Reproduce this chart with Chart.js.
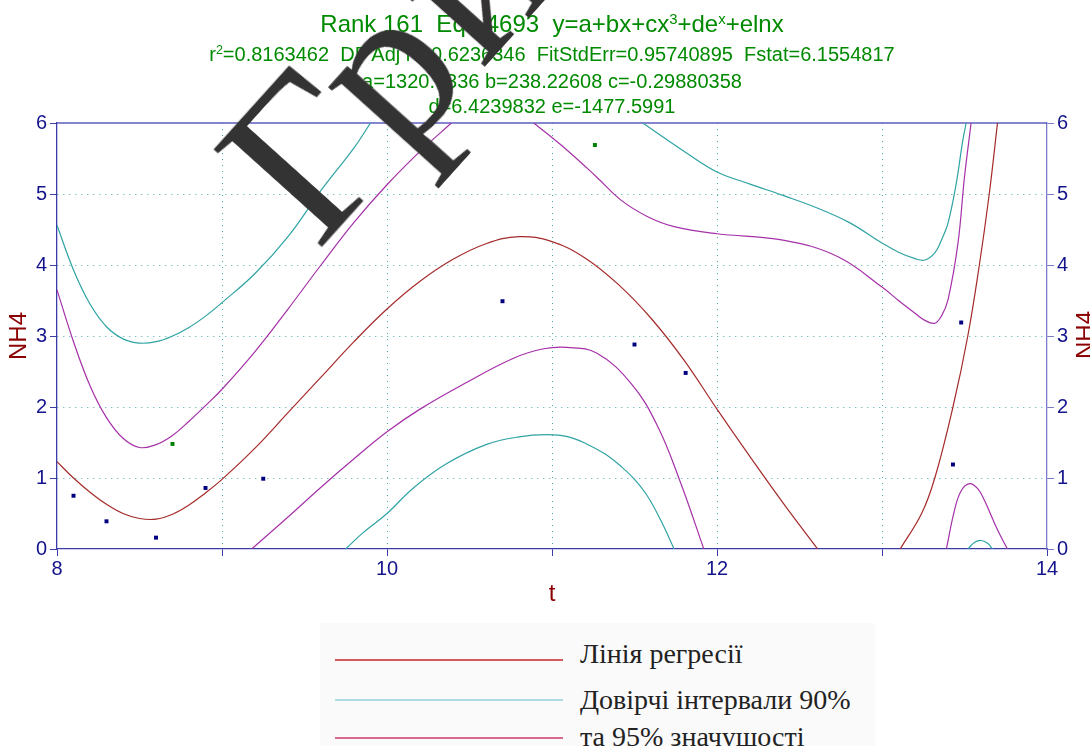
<!DOCTYPE html>
<html>
<head>
<meta charset="utf-8">
<script src="https://cdn.jsdelivr.net/npm/chart.js@4.4.1/dist/chart.umd.min.js"></script>
<style>
  body { margin:0; width:1090px; height:746px; overflow:hidden; background:#fff; position:relative; }
  #wrap { position:absolute; left:0; top:0; width:1090px; height:620px; }
  .ttl { position:absolute; left:0; width:1104px; text-align:center; color:#008a00;
         font-family:"Liberation Sans", Arial, sans-serif; line-height:1; white-space:nowrap; }
  .ttl sup { font-size:0.62em; line-height:0; vertical-align:0.55em; }
  #nh4r { position:absolute; left:1055px; top:321px; width:60px; height:28px; line-height:28px;
          text-align:center; font:24px "Liberation Sans", Arial, sans-serif; color:#8b0000;
          transform:rotate(-90deg); }
  #legend { position:absolute; left:320px; top:623px; width:555px; height:123px; background:#fafafa; }
  .lg-line { position:absolute; left:15px; width:228px; height:2px; }
  .lg-txt { position:absolute; left:260px; font:28px "Liberation Serif", "Times New Roman", serif;
            color:#222; line-height:1; white-space:nowrap; }
  #stamp { position:absolute; left:318px; top:252px; width:0; height:0; transform:rotate(-48deg);
           transform-origin:0 0; }
  #stamp span { position:absolute; left:0; top:-186px; font:222px "Liberation Serif", "Times New Roman", serif;
                color:#333; line-height:1; white-space:nowrap; letter-spacing:10px; }
</style>
</head>
<body>
<div id="wrap"><canvas id="chart" width="1090" height="620"></canvas></div>

<div class="ttl" style="top:12px;font-size:24px;">Rank 161&nbsp; Eqn 4693&nbsp; y=a+bx+cx<sup>3</sup>+de<sup>x</sup>+elnx</div>
<div class="ttl" style="top:44px;font-size:20px;">r<sup>2</sup>=0.8163462&nbsp; DF Adj r<sup>2</sup>=0.6236346&nbsp; FitStdErr=0.95740895&nbsp; Fstat=6.1554817</div>
<div class="ttl" style="top:71px;font-size:20px;">a=1320.7336 b=238.22608 c=-0.29880358</div>
<div class="ttl" style="top:96px;font-size:20px;">d=6.4239832 e=-1477.5991</div>

<div id="nh4r">NH4</div>

<div id="legend">
  <div class="lg-line" style="top:36px;background:#d35a5e;"></div>
  <div class="lg-txt" style="top:17px;">Лінія регресії</div>
  <div class="lg-line" style="top:76px;background:#abdbe3;"></div>
  <div class="lg-txt" style="top:63px;">Довірчі інтервали 90%</div>
  <div class="lg-line" style="top:114px;background:#d8698c;"></div>
  <div class="lg-txt" style="top:100px;">та 95% значущості</div>
</div>

<div id="stamp"><span>Гриф</span></div>

<script>
// measured points (t, NH4)
const obsX = [8.10, 8.30, 8.60, 8.90, 9.25, 10.70, 11.50, 11.81, 13.43, 13.48];
const obsY = [0.75, 0.39, 0.16, 0.86, 0.99, 3.49, 2.88, 2.48, 1.19, 3.19];
const outX = [8.70, 11.26];
const outY = [1.48, 5.69];

// regression line
const regX = [8.0, 8.1, 8.2, 8.3, 8.4, 8.5, 8.6, 8.7, 8.8, 8.9, 9.0, 9.2, 9.4, 9.6, 9.8, 10.0, 10.2, 10.4, 10.6, 10.8, 11.0, 11.2, 11.4, 11.6, 11.8, 12.0, 12.2, 12.4, 12.61,
              null, 13.11, 13.24, 13.32, 13.43, 13.52, 13.59, 13.65, 13.70];
const regY = [1.23, 1.0, 0.8, 0.63, 0.5, 0.43, 0.42, 0.49, 0.62, 0.79, 0.98, 1.42, 1.92, 2.42, 2.92, 3.38, 3.77, 4.08, 4.3, 4.4, 4.33, 4.1, 3.73, 3.25, 2.66, 1.97, 1.3, 0.65, 0,
              null, 0, 0.5, 1.0, 2.0, 3.0, 4.0, 5.0, 6.0];

// 90% band (teal)
const hi90X = [8.0, 8.1, 8.2, 8.3, 8.4, 8.5, 8.6, 8.7, 8.8, 8.9, 9.0, 9.2, 9.4, 9.6, 9.8, 9.9,
               null, 11.55, 11.82, 12.0, 12.2, 12.4, 12.6, 12.8, 13.0, 13.1, 13.2, 13.26, 13.32, 13.36, 13.40, 13.45, 13.49, 13.51];
const hi90Y = [4.56, 3.93, 3.45, 3.13, 2.96, 2.9, 2.92, 3.0, 3.12, 3.28, 3.47, 3.88, 4.4, 5.05, 5.65, 6.0,
               null, 6.0, 5.57, 5.31, 5.14, 4.98, 4.81, 4.6, 4.31, 4.18, 4.09, 4.07, 4.17, 4.35, 4.59, 5.15, 5.76, 6.0];
const lo90X = [9.75, 9.85, 10.0, 10.16, 10.36, 10.6, 10.8, 10.97, 11.1, 11.21, 11.32, 11.42, 11.5, 11.58, 11.66, 11.74,
               null, 13.52, 13.56, 13.60, 13.64, 13.67];
const lo90Y = [0, 0.22, 0.5, 0.86, 1.2, 1.47, 1.58, 1.61, 1.58, 1.48, 1.34, 1.16, 0.98, 0.74, 0.4, 0,
               null, 0, 0.09, 0.12, 0.08, 0];

// 95% band (magenta)
const hi95X = [8.0, 8.1, 8.2, 8.3, 8.4, 8.5, 8.6, 8.7, 8.8, 8.9, 9.0, 9.2, 9.4, 9.6, 9.8, 10.0, 10.2, 10.39,
               null, 10.89, 11.09, 11.27, 11.42, 11.58, 11.74, 12.0, 12.4, 12.73, 13.0, 13.1, 13.2, 13.26, 13.32, 13.36, 13.40, 13.46, 13.50, 13.54];
const hi95Y = [3.65, 2.92, 2.3, 1.85, 1.56, 1.43, 1.47, 1.6, 1.8, 2.02, 2.25, 2.78, 3.38, 4.0, 4.6, 5.13, 5.6, 6.0,
               null, 6.0, 5.62, 5.24, 4.91, 4.68, 4.54, 4.44, 4.35, 4.12, 3.69, 3.5, 3.32, 3.22, 3.18, 3.28, 3.51, 4.30, 5.24, 6.0];
const lo95X = [9.18, 9.4, 9.6, 9.8, 10.0, 10.2, 10.47, 10.77, 10.95, 11.09, 11.27, 11.48, 11.64, 11.78, 11.92,
               null, 13.39, 13.44, 13.48, 13.53, 13.58, 13.62, 13.70, 13.76];
const lo95Y = [0, 0.45, 0.87, 1.27, 1.65, 1.97, 2.33, 2.69, 2.82, 2.84, 2.76, 2.33, 1.73, 0.93, 0,
               null, 0, 0.55, 0.82, 0.92, 0.85, 0.69, 0.27, 0];

const xTicks = [8, 10, 12, 14];

const pts = (xs, ys) => xs.map((x, i) => ({ x: x, y: ys[i] }));

const NAVY = '#14148c';
const AXIS = '#3c3ca8';
const GRID = '#45a8a8';
const DARKRED = '#8b0000';

function curve(xs, ys, color) {
    return {
        data: pts(xs, ys), showLine: true, borderColor: color, borderWidth: 1.2,
        pointRadius: 0, tension: 0.4, spanGaps: false
    };
}

// top frame line (no axis there)
const topFrame = {
    id: 'topFrame',
    beforeDatasetsDraw(chart) {
        const { ctx, chartArea: a } = chart;
        ctx.save();
        ctx.strokeStyle = '#5c5cc0';
        ctx.lineWidth = 1.3;
        ctx.beginPath();
        ctx.moveTo(a.left, a.top);
        ctx.lineTo(a.right, a.top);
        ctx.stroke();
        ctx.restore();
    }
};

const edgeGrid = (lo, hi) => c => (c.tick && (c.tick.value === lo || c.tick.value === hi)) ? 'transparent' : GRID;

new Chart(document.getElementById('chart'), {
    type: 'scatter',
    data: {
        datasets: [
            { data: pts(obsX, obsY), pointStyle: 'rect', pointRadius: 2.8, backgroundColor: '#000080', borderWidth: 0 },
            { data: pts(outX, outY), pointStyle: 'rect', pointRadius: 2.8, backgroundColor: '#008000', borderWidth: 0 },
            curve(regX, regY, '#a52a2a'),
            curve(hi95X, hi95Y, '#a530a8'),
            curve(lo95X, lo95Y, '#a530a8'),
            curve(hi90X, hi90Y, '#2fa3a3'),
            curve(lo90X, lo90Y, '#2fa3a3')
        ]
    },
    options: {
        responsive: false,
        animation: false,
        layout: { padding: { top: 123, left: 0, right: 0, bottom: 0 } },
        plugins: { legend: { display: false }, tooltip: { enabled: false }, title: { display: false } },
        scales: {
            x: {
                type: 'linear', position: 'bottom', min: 8, max: 14,
                afterFit: s => { s.height = 71; },
                ticks: {
                    stepSize: 1, autoSkip: false, maxRotation: 0, color: NAVY, padding: 1,
                    font: { family: 'Liberation Sans, Arial', size: 20 },
                    callback: v => xTicks.includes(v) ? String(v) : ''
                },
                grid: { color: edgeGrid(8, 14), lineWidth: 1, tickColor: AXIS, tickLength: 7, tickBorderDash: [] },
                border: { color: AXIS, width: 1.3, dash: [1, 5] },
                title: { display: true, text: 't', color: DARKRED, font: { family: 'Liberation Sans, Arial', size: 24 }, padding: { top: 0, bottom: 11 } }
            },
            y: {
                type: 'linear', position: 'left', min: 0, max: 6,
                afterFit: s => { s.width = 57; },
                ticks: { stepSize: 1, color: NAVY, padding: 3, font: { family: 'Liberation Sans, Arial', size: 20 } },
                grid: { color: edgeGrid(0, 6), lineWidth: 1, tickColor: AXIS, tickLength: 7, tickBorderDash: [] },
                border: { color: AXIS, width: 1.3, dash: [1, 5] },
                title: { display: true, text: 'NH4', color: DARKRED, font: { family: 'Liberation Sans, Arial', size: 24 }, padding: { top: 5, bottom: 0 } }
            },
            y2: {
                type: 'linear', position: 'right', min: 0, max: 6,
                afterFit: s => { s.width = 43; },
                ticks: { stepSize: 1, color: NAVY, padding: 3, font: { family: 'Liberation Sans, Arial', size: 20 } },
                grid: { drawOnChartArea: false, tickColor: '#7c7cc8', tickLength: 7, tickBorderDash: [] },
                border: { color: '#7c7cc8', width: 1.3 }
            }
        }
    },
    plugins: [topFrame]
});
</script>
</body>
</html>
